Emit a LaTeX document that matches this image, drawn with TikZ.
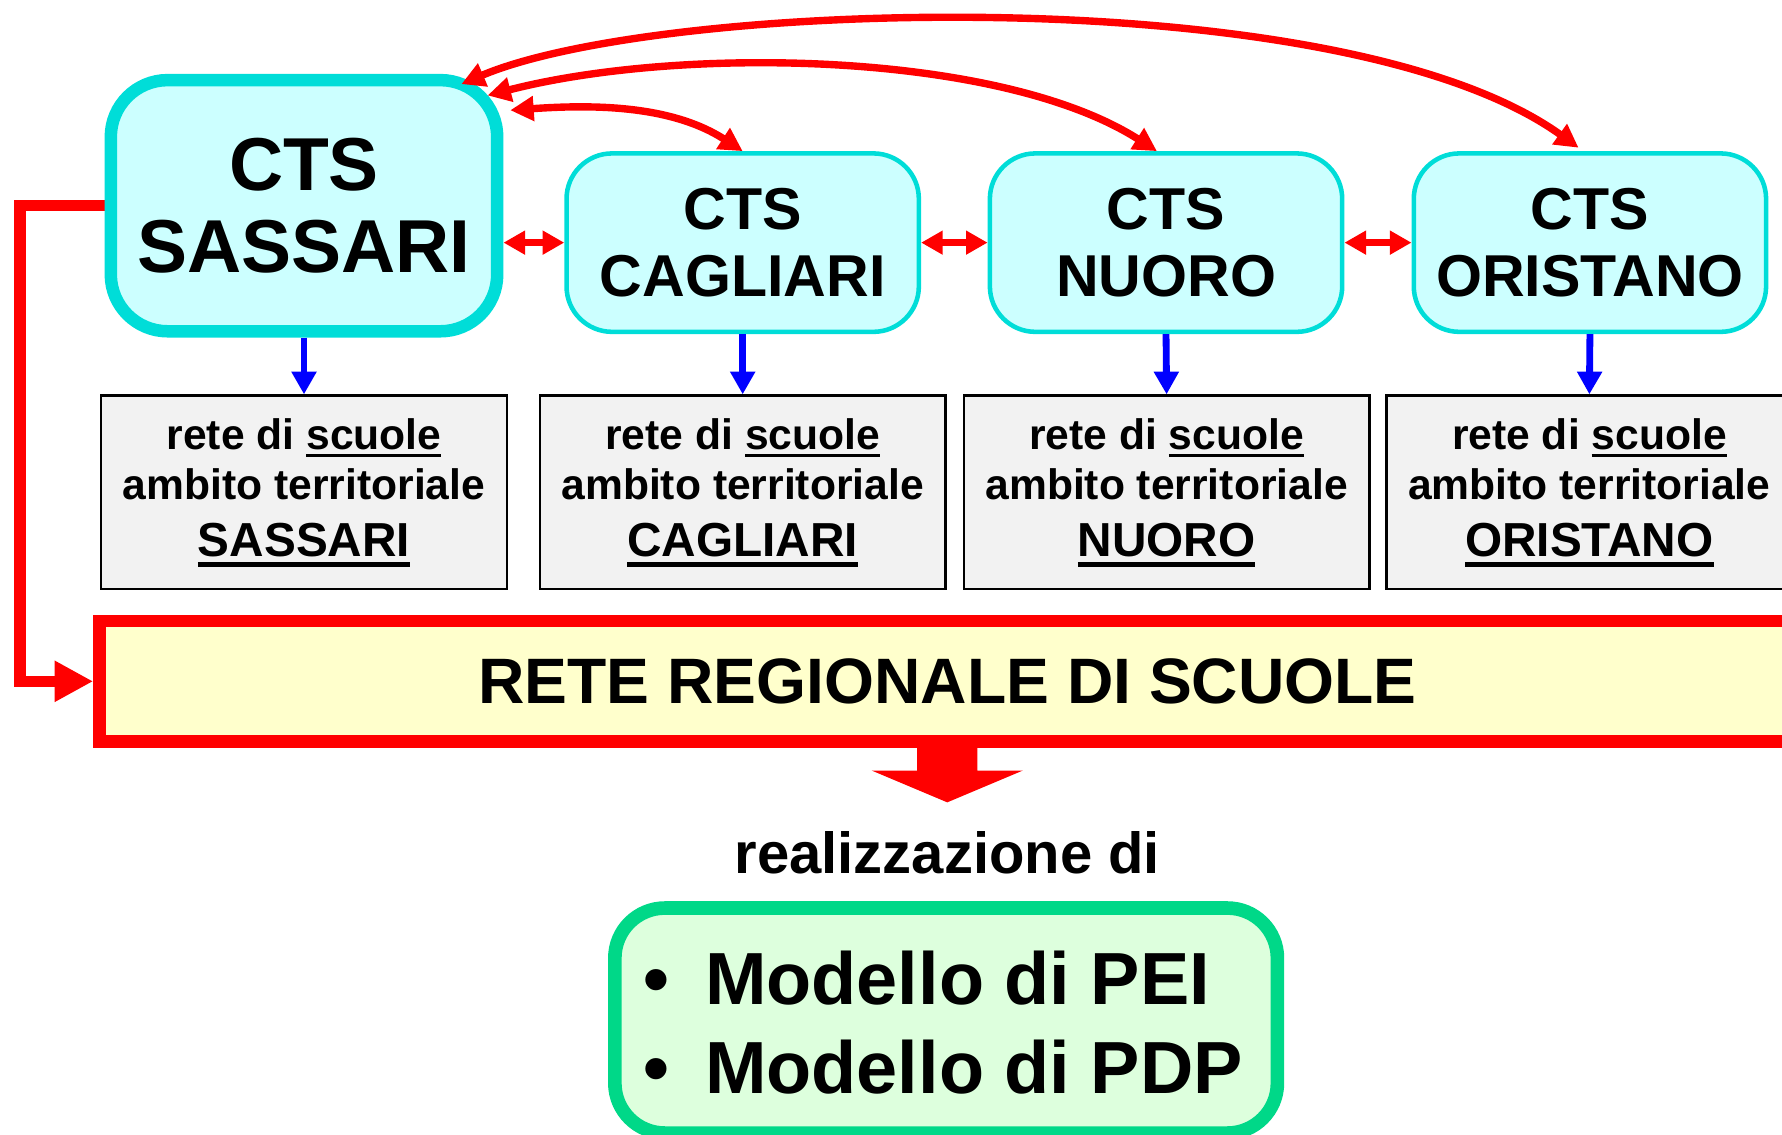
\documentclass[tikz,border=0pt]{standalone}
\usepackage{fontspec}
\setmainfont{Liberation Sans}
\usetikzlibrary{arrows.meta,calc}
\definecolor{cyanB}{HTML}{00DDD8}
\definecolor{cyanF}{HTML}{CCFFFF}
\definecolor{grayF}{HTML}{F2F2F2}
\definecolor{yellowF}{HTML}{FFFFCC}
\definecolor{greenB}{HTML}{00D888}
\definecolor{greenF}{HTML}{DDFFDD}
\definecolor{myred}{HTML}{FF0000}
\definecolor{myblue}{HTML}{0000FF}
\newcommand\myulA[1]{\setbox0\hbox{#1}\rlap{\rule[-3.25pt]{\wd0}{1.5pt}}\box0}
\newcommand\myulB[1]{\setbox0\hbox{#1}\rlap{\rule[-4.3pt]{\wd0}{2pt}}\box0}
\begin{document}
\begin{tikzpicture}[x=0.5pt,y=-0.5pt,
  cts/.style={draw=cyanB,fill=cyanF,line width=2pt,rounded corners=20pt,
    minimum width=155pt,minimum height=78.5pt,inner sep=0pt,align=center,
    font=\bfseries\fontsize{26pt}{29.7pt}\selectfont},
  ctsbig/.style={cts,line width=5.5pt,rounded corners=25pt,minimum width=170pt,
    minimum height=110.5pt,font=\bfseries\fontsize{33pt}{35.75pt}\selectfont},
  retebox/.style={draw=black,fill=grayF,line width=1pt,minimum width=178.5pt,
    minimum height=85pt,inner sep=0pt},
  lbl/.style={inner sep=0pt,anchor=base,font=\bfseries\fontsize{18.75pt}{21.9pt}\selectfont},
  lblbig/.style={lbl,font=\bfseries\fontsize{21pt}{25pt}\selectfont},
  itemtxt/.style={inner sep=0pt,anchor=base,font=\bfseries\fontsize{32.5pt}{39pt}\selectfont},
  redarr/.style={draw=myred,line width=3.25pt,{Triangle[width=10.5pt,length=10.3pt]}-{Triangle[width=10.5pt,length=10.3pt]}},
  dblarr/.style={draw=myred,line width=3pt,{Triangle[width=10pt,length=9.5pt]}-{Triangle[width=10pt,length=9.5pt]}},
  bluearr/.style={draw=myblue,line width=3pt,-{Triangle[width=10.5pt,length=10pt]}},
  elbowarr/.style={draw=myred,line width=5pt,-{Triangle[width=17pt,length=17pt]}}
]
\useasboundingbox (0,0) rectangle (1568,998.7);

% regional network box
\node[draw=myred,fill=yellowF,line width=5.5pt,minimum width=746.25pt,minimum height=53pt,
  inner sep=0pt,font=\bfseries\fontsize{28.25pt}{34pt}\selectfont] (reg) at (833.75,599.5)
  {RETE REGIONALE DI SCUOLE};

% elbow connector from Sassari to regional network
\coordinate (elb) at (17.6,181);
\draw[elbowarr] (266,181) -- (elb) |- (reg.west);

% CTS boxes
\node[ctsbig] (sas) at (267.5,181) {CTS\\SASSARI};
\node[cts] (cag) at (653.5,213.5) {CTS\\CAGLIARI};
\node[cts] (nuo) at (1026,213.5) {CTS\\NUORO};
\node[cts] (ori) at (1399,213.5) {CTS\\ORISTANO};

% school network boxes
\foreach \n/\x/\nm in {1/267.5/SASSARI,2/653.5/CAGLIARI,3/1026.5/NUORO,4/1398.5/ORISTANO}{
  \node[retebox] (g\n) at (\x,433) {};
  \node[lbl] (g\n a) at (\x,395.6) {rete di \myulA{scuole}};
  \node[lbl] (g\n b) at (\x,439.4) {ambito territoriale};
  \node[lblbig] (g\n c) at (\x,490) {\myulB{\nm}};
}

% blue arrows
\draw[bluearr] (sas.south) -- (g1.north);
\draw[bluearr] (cag.south) -- (g2.north);
\draw[bluearr] (nuo.south) -- (g3.north);
\draw[bluearr] (ori.south) -- (g4.north);

% horizontal double arrows
\draw[dblarr] (sas.east |- cag.west) -- (cag.west);
\draw[dblarr] (cag.east) -- (nuo.west);
\draw[dblarr] (nuo.east) -- (ori.west);

% top curved double arrows
\draw[redarr] ($(sas.north east)+(6,32)$) .. controls (520,92) and (590,92) .. (cag.north);
\draw[redarr] ($(sas.north east)+(-14,19)$) .. controls (600,40) and (880,45) .. ($(nuo.north)+(-8,0)$);
\draw[redarr] ($(sas.north east)+(-37,9)$) .. controls (580,0) and (1180,-20) .. ($(ori.north)+(-10,-3)$);

% big block arrow
\fill[myred] (807,655) -- (807,678) -- (767,678) -- (833.5,706) -- (900,678) -- (860,678) -- (860,655) -- cycle;

% realizzazione di
\node[inner sep=0pt,anchor=base,font=\bfseries\fontsize{25.5pt}{30pt}\selectfont] (real) at (833.5,769) {realizzazione di};

% models box
\node[draw=greenB,fill=greenF,line width=6pt,rounded corners=22pt,minimum width=291.5pt,
  minimum height=99pt,inner sep=0pt] (mod) at (832.5,898) {};
\node[itemtxt] (b1) at (578,883.6) {•};
\node[itemtxt,anchor=base west] (m1) at (620,883.6) {Modello di PEI};
\node[itemtxt] (b2) at (578,962) {•};
\node[itemtxt,anchor=base west] (m2) at (620,962) {Modello di PDP};
\end{tikzpicture}
\end{document}
